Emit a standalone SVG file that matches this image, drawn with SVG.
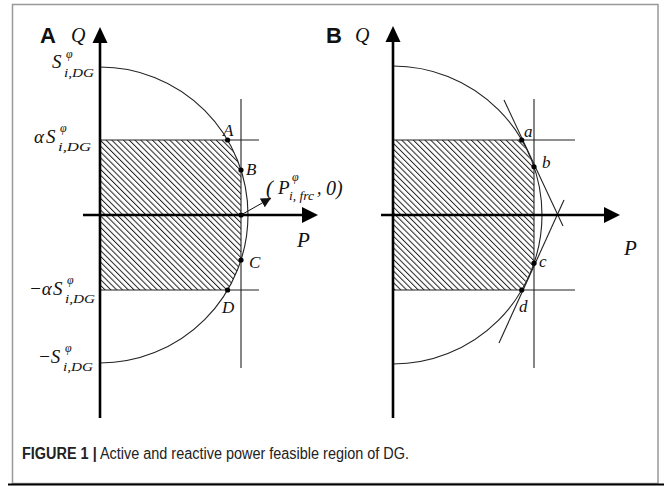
<svg xmlns="http://www.w3.org/2000/svg" width="664" height="486" viewBox="0 0 664 486">
<style>
.ax{stroke:#000;stroke-width:2.6;fill:none}
.ln{stroke:#222;stroke-width:1.1;fill:none}
.arc{stroke:#222;stroke-width:1.1;fill:none}
.m{font-family:"Liberation Serif","DejaVu Serif",serif;font-style:italic;fill:#111}
.big{font-size:19px}
.sup{font-size:12px}
.sub{font-size:13px}
.pt{font-size:17px}
.pl{font-family:"Liberation Sans","DejaVu Sans",sans-serif;font-weight:bold;font-size:22px;fill:#111}
.cap{font-family:"Liberation Sans Narrow","Liberation Sans",sans-serif;font-size:16px;fill:#222}
</style>
<defs>
<pattern id="hatch" patternUnits="userSpaceOnUse" width="4.1" height="10" patternTransform="rotate(-45)">
<line x1="0.5" y1="0" x2="0.5" y2="10" stroke="#222" stroke-width="1"/>
</pattern>
<marker id="sm" viewBox="0 0 10 10" refX="10" refY="5" markerWidth="10" markerHeight="10" markerUnits="userSpaceOnUse" orient="auto">
<path d="M0,0 L10,5 L0,10 Z" fill="#111"/>
</marker>
</defs>
<rect width="664" height="486" fill="#fff"/>
<g id="frame">
<rect x="12.5" y="4.5" width="645.5" height="479" fill="none" stroke="#999" stroke-width="1.5"/>
<line x1="8" y1="484.5" x2="664" y2="484.5" stroke="#000" stroke-width="2"/>
</g>

<g id="panelA">
<path d="M100,140 H227.6 A148,148 0 0 1 241,170 V260 A148,148 0 0 1 227.6,290 H100 Z" fill="url(#hatch)"/>
<path class="arc" d="M100,67 A148,148 0 0 1 248,215 A148,148 0 0 1 100,363"/>
<line class="ln" x1="100" y1="140" x2="259" y2="140"/>
<line class="ln" x1="100" y1="290" x2="259" y2="290"/>
<line class="ln" x1="241" y1="99" x2="241" y2="368"/>
<line class="ax" x1="100" y1="40" x2="100" y2="418"/>
<polygon points="100,27 92.5,43 107.5,43" fill="#000"/>
<line class="ax" x1="83" y1="215" x2="305" y2="215"/>
<polygon points="318,215 302,207 302,223" fill="#000"/>
<g fill="#000">
<circle cx="227.6" cy="140" r="2.6"/>
<circle cx="241" cy="170" r="2.6"/>
<circle cx="241" cy="215" r="2.6"/>
<circle cx="241" cy="260" r="2.6"/>
<circle cx="227.6" cy="290" r="2.6"/>
</g>
<text class="pl" x="40" y="43">A</text>
<text class="m" x="71" y="42" font-size="20">Q</text>
<text class="m big" x="52" y="68">S</text><text class="m sup" x="66" y="58">φ</text><text class="m sub" x="64" y="77" textLength="30" lengthAdjust="spacingAndGlyphs">i,DG</text>
<text class="m big" x="34" y="143">α</text><text class="m big" x="46" y="143">S</text><text class="m sup" x="60" y="132">φ</text><text class="m sub" x="58" y="151" textLength="33" lengthAdjust="spacingAndGlyphs">i,DG</text>
<text class="m big" x="29" y="295">−α</text><text class="m big" x="53" y="295">S</text><text class="m sup" x="67" y="284">φ</text><text class="m sub" x="65" y="303" textLength="30" lengthAdjust="spacingAndGlyphs">i,DG</text>
<text class="m big" x="38" y="363">−S</text><text class="m sup" x="65" y="352">φ</text><text class="m sub" x="63" y="371" textLength="30" lengthAdjust="spacingAndGlyphs">i,DG</text>
<text class="m pt" x="223" y="136">A</text>
<text class="m pt" x="246" y="175">B</text>
<text class="m pt" x="249" y="268">C</text>
<text class="m pt" x="222" y="313">D</text>
<text class="m" x="297" y="247" font-size="21">P</text>
<text class="m" x="266" y="195" font-size="21" font-style="normal">(</text>
<text class="m" x="278" y="194" font-size="19">P</text>
<text class="m sup" x="292" y="181">φ</text>
<text class="m" x="289" y="200" font-size="12" textLength="25" lengthAdjust="spacingAndGlyphs">i, frc</text>
<text class="m" x="317" y="194" font-size="18" font-style="normal">,</text>
<text class="m" x="326" y="195" font-size="20" font-style="normal">0)</text>
</g>

<g id="panelB">
<path d="M393,140 H521.7 L534,166.8 V263.2 L521.7,290 H393 Z" fill="url(#hatch)"/>
<path class="arc" d="M393,66 A149,149 0 0 1 542,215 A149,149 0 0 1 393,364"/>
<line class="ln" x1="393" y1="140" x2="575" y2="140"/>
<line class="ln" x1="393" y1="290" x2="575" y2="290"/>
<line class="ln" x1="534" y1="99" x2="534" y2="368"/>
<line class="ln" x1="504" y1="100" x2="563" y2="226"/>
<line class="ln" x1="499" y1="343" x2="564" y2="200"/>
<line class="ax" x1="393" y1="40" x2="393" y2="418"/>
<polygon points="393,26 385.5,42 400.5,42" fill="#000"/>
<line class="ax" x1="381" y1="215" x2="606" y2="215"/>
<polygon points="620,215 604,207 604,223" fill="#000"/>
<g fill="#000">
<circle cx="521.7" cy="140" r="2.6"/>
<circle cx="534" cy="166.8" r="2.6"/>
<circle cx="534" cy="263.2" r="2.6"/>
<circle cx="521.7" cy="290" r="2.6"/>
</g>
<text class="pl" x="326" y="43">B</text>
<text class="m" x="355" y="42" font-size="20">Q</text>
<text class="m pt" x="524" y="137">a</text>
<text class="m pt" x="542" y="168">b</text>
<text class="m pt" x="539" y="267">c</text>
<text class="m pt" x="519" y="312">d</text>
<text class="m" x="624" y="255" font-size="21">P</text>
</g>

<g id="connectors">
<line x1="241" y1="215" x2="271" y2="198" stroke="#111" stroke-width="1" marker-end="url(#sm)"/>
</g>

<g id="caption">
<text class="cap" x="22" y="459" textLength="387" lengthAdjust="spacingAndGlyphs"><tspan font-weight="bold">FIGURE 1 |</tspan> Active and reactive power feasible region of DG.</text>
</g>
</svg>
